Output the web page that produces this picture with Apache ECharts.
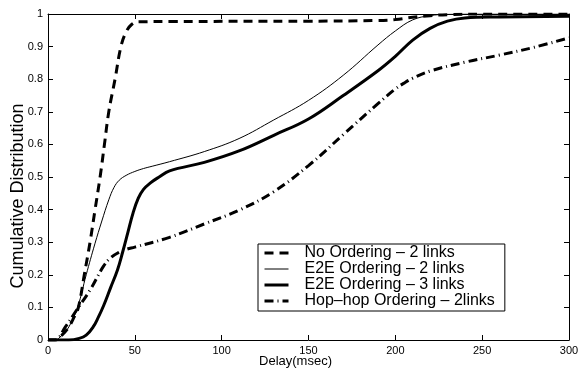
<!DOCTYPE html>
<html><head><meta charset="utf-8">
<script src="https://cdn.jsdelivr.net/npm/echarts@6/dist/echarts.min.js"></script>
<style>html,body{margin:0;padding:0;background:#fff}#c{width:579px;height:368px}</style>
</head><body><div id="c"></div>
<script>
const seriesNames = ['No Ordering \u2013 2 links','E2E Ordering \u2013 2 links','E2E Ordering \u2013 3 links','Hop\u2013hop Ordering \u2013 2links'];
const xAxisTitle = 'Delay(msec)';
const yAxisTitle = 'Cumulative Distribution';
const noOrderX = [0,4,8,12,15,17.5,20.9,24.2,27.1,30,32.5,35,38.6,42,45,48,52,70,150,190,200,210,220,230,250,300];
const noOrderY = [0,0,0.015,0.04,0.07,0.1,0.2,0.3,0.4,0.5,0.6,0.7,0.8,0.9,0.945,0.967,0.976,0.977,0.978,0.98,0.983,0.99,0.995,0.998,1,1];
const e2e2X = [0,4,8,12,17,22,27,31,35,38,41,45,50,55,60,70,90,110,130,150,170,190,200,210,220,230,250,300];
const e2e2Y = [0,0,0.015,0.04,0.1,0.2,0.295,0.365,0.43,0.468,0.49,0.505,0.517,0.526,0.533,0.547,0.578,0.618,0.675,0.735,0.812,0.905,0.948,0.982,0.995,0.999,1,1];
const e2e3X = [0,12,18,22,26,29,32,36,40,43,46,49,52,55,59,64,70,90,110,130,150,170,190,200,210,220,230,240,260,300];
const e2e3Y = [0,0,0.005,0.015,0.04,0.07,0.105,0.16,0.215,0.27,0.33,0.39,0.435,0.462,0.482,0.5,0.519,0.545,0.58,0.628,0.678,0.75,0.826,0.87,0.92,0.956,0.978,0.988,0.991,0.993];
const hopX = [0,4,10,16.5,24.2,31.8,36,40.5,45,50,70,90,110,130,150,170,190,200,205,210,220,240,260,280,300];
const hopY = [0,0,0.04,0.092,0.153,0.225,0.252,0.268,0.278,0.285,0.315,0.356,0.398,0.455,0.535,0.63,0.725,0.77,0.788,0.803,0.825,0.852,0.874,0.898,0.927];

function pairs(xs, ys){ return xs.map((x,i)=>[x, ys[i]]); }

const font = 'Liberation Sans, Arial, Helvetica, sans-serif';
const chart = echarts.init(document.getElementById('c'), null, {renderer:'canvas'});
const axisLine = {show:true, onZero:false, lineStyle:{color:'#000', width:1}};
const tick = {show:true, inside:true, length:5, lineStyle:{color:'#000', width:1}};
const styles = [
  {color:'#000', width:3, type:[9,6]},
  {color:'#000', width:1, type:'solid'},
  {color:'#000', width:3, type:'solid'},
  {color:'#000', width:3, type:[9,4,1,4]}
];
const datas = [pairs(noOrderX,noOrderY), pairs(e2e2X,e2e2Y), pairs(e2e3X,e2e3Y), pairs(hopX,hopY)];
chart.setOption({
  animation:false,
  backgroundColor:'#fff',
  grid:{left:48, top:14, right:10, bottom:28, show:false, containLabel:false, outerBoundsMode:'none'},
  legend:{
    orient:'vertical', left:258, top:244, itemWidth:24, itemHeight:14, itemGap:0,
    padding:[1,10,2,5], borderColor:'#000', borderWidth:1, backgroundColor:'#fff',
    data:seriesNames.map((n,i)=>({name:n, itemStyle:{opacity:0},
      lineStyle:{color:'#000', width:styles[i].width, type:styles[i].type, opacity:1}})),
    itemStyle:{opacity:0},
    textStyle:{fontFamily:font, fontSize:16, lineHeight:15, color:'#000', padding:[0,0,0,11]}
  },
  xAxis:[
    {type:'value', min:0, max:300, interval:50, position:'bottom', axisLine, axisTick:tick,
     axisLabel:{color:'#000', fontFamily:font, fontSize:11, margin:5},
     splitLine:{show:false}},
    {type:'value', min:0, max:300, interval:50, position:'top', axisLine, axisTick:tick,
     axisLabel:{show:false}, splitLine:{show:false}}
  ],
  yAxis:[
    {type:'value', min:0, max:1, interval:0.1, position:'left', axisLine, axisTick:tick,
     axisLabel:{color:'#000', fontFamily:font, fontSize:11, margin:5, formatter:v=>String(+v.toFixed(1))},
     splitLine:{show:false}},
    {type:'value', min:0, max:1, interval:0.1, position:'right', axisLine, axisTick:tick,
     axisLabel:{show:false}, splitLine:{show:false}}
  ],
  graphic:[
    {type:'text', x:295.5, y:361, style:{text:xAxisTitle, font:'13px '+font, fill:'#000', align:'center', verticalAlign:'middle'}},
    {type:'text', x:18, y:196, rotation:Math.PI/2, style:{text:yAxisTitle, font:'18px '+font, fill:'#000', align:'center', verticalAlign:'middle'}}
  ],
  series: seriesNames.map((n,i)=>({
    name:n, type:'line', data:datas[i], showSymbol:false, symbol:'none',
    smooth:0.4, xAxisIndex:0, yAxisIndex:0,
    lineStyle:styles[i], itemStyle:{color:'#000'}, z: 4-i
  }))
});
</script></body></html>
